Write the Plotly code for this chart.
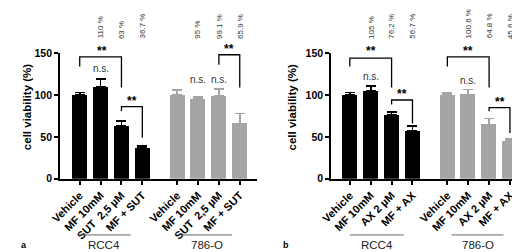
import plotly.graph_objects as go

# ---------------- data ----------------
x_pos = [0, 1, 2, 3, 4.67, 5.67, 6.67, 7.67]
cell_lines = ["RCC4", "786-O"]

a_labels = ["Vehicle", "MF 10mM", "SUT\u00a0 2,5 µM", "MF + SUT"]
a_rcc4 = [100, 110, 63, 36.7]
a_rcc4_err = [3, 9, 6, 2]
a_786 = [100, 95, 99.1, 65.9]
a_786_err = [6, 2.5, 8, 12]
a_pct = ["110 %", "63 %", "36.7 %", "95 %", "99.1 %", "65.9 %"]

b_labels = ["Vehicle", "MF 10mM", "AX 2 µM", "MF + AX"]
b_rcc4 = [100, 105, 76.2, 56.7]
b_rcc4_err = [3, 6, 3.3, 6]
b_786 = [100, 100.6, 64.8, 45.6]
b_786_err = [2, 6, 7, 2]
b_pct = ["105 %", "76.2 %", "56.7 %", "100.6 %", "64.8 %", "45.6 %"]

BLACK = "#000000"
GRAY = "#a5a5a5"
FONT = "Liberation Sans"

# vertical geometry of the plotting area (pixels from top)
Y0_PX, Y150_PX, H = 173, 41, 252

fig = go.Figure()


def add_bars(xa, ya, rcc, rcc_err, o786, o786_err):
    fig.add_trace(go.Bar(
        x=x_pos[:4], y=rcc, width=0.72, xaxis=xa, yaxis=ya,
        marker=dict(color=BLACK, line=dict(width=0)),
        error_y=dict(type="data", array=rcc_err, arrayminus=[0] * 4,
                     symmetric=False, color=BLACK, thickness=1.8, width=5),
        showlegend=False, hoverinfo="skip"))
    fig.add_trace(go.Bar(
        x=x_pos[4:], y=o786, width=0.72, xaxis=xa, yaxis=ya,
        marker=dict(color=GRAY, line=dict(width=0)),
        error_y=dict(type="data", array=o786_err, arrayminus=[0] * 4,
                     symmetric=False, color=GRAY, thickness=1.8, width=5),
        showlegend=False, hoverinfo="skip"))


add_bars("x", "y", a_rcc4, a_rcc4_err, a_786, a_786_err)
add_bars("x2", "y2", b_rcc4, b_rcc4_err, b_786, b_786_err)


def xaxis_cfg(domain, rng, labels):
    return dict(domain=domain, range=rng, tickmode="array", tickvals=x_pos,
                ticktext=labels + labels, ticks="outside", ticklen=4,
                tickwidth=1.8, tickcolor="black", showline=True,
                linecolor="black", linewidth=2, tickangle=-45,
                tickfont=dict(family=FONT, size=11, color="black", weight="bold"),
                showgrid=False, zeroline=False, fixedrange=True)


def yaxis_cfg(anchor):
    return dict(domain=[(H - Y0_PX) / H, (H - Y150_PX) / H], range=[0, 150], anchor=anchor,
                tickmode="array", tickvals=[0, 50, 100, 150],
                ticks="outside", ticklen=4, tickwidth=1.8, tickcolor="black",
                showline=True, linecolor="black", linewidth=2,
                tickfont=dict(family=FONT, size=10.5, color="black", weight="bold"),
                showgrid=False, zeroline=False, fixedrange=True)


fig.update_layout(
    width=520, height=252,
    margin=dict(l=0, r=0, t=0, b=0),
    paper_bgcolor="white", plot_bgcolor="white",
    bargap=0,
    xaxis=dict(xaxis_cfg([42 / 520, 243 / 520], [-0.94, 8.49], a_labels), anchor="y"),
    yaxis=yaxis_cfg("x"),
    xaxis2=dict(xaxis_cfg([319 / 520, 518 / 520], [-0.89, 8.44], b_labels), anchor="y2"),
    yaxis2=yaxis_cfg("x2"),
)

shapes = []
annots = []


def to_paper(v):
    """value on the y scale -> paper fraction (for labels above the axis range)"""
    return (H - (Y0_PX - v * (Y0_PX - Y150_PX) / 150)) / H


def bracket(xr, yr, x0, x1, top, left_end, right_end):
    shapes.append(dict(type="path", xref=xr, yref=yr,
                       path=f"M {x0},{left_end} L {x0},{top} L {x1},{top} L {x1},{right_end}",
                       line=dict(color="black", width=1.3)))


def stars(xr, x, v):
    annots.append(dict(text="**", xref=xr, yref="paper", x=x, y=to_paper(v), showarrow=False,
                       font=dict(family=FONT, size=12, color="black", weight="bold"),
                       xanchor="center", yanchor="middle"))


def ns(xr, x, v):
    annots.append(dict(text="n.s.", xref=xr, yref="paper", x=x, y=to_paper(v), showarrow=False,
                       font=dict(family=FONT, size=10, color="#333333"),
                       xanchor="center", yanchor="middle"))


# panel a
bracket("x", "y", x_pos[0], x_pos[2], 145.5, 134, 109)
stars("x", 1.05, 153)
ns("x", x_pos[1], 131)
bracket("x", "y", x_pos[2], x_pos[3], 86, 81, 49)
stars("x", 2.5, 93)
ns("x", x_pos[5], 118)
ns("x", x_pos[6], 118)
bracket("x", "y", x_pos[6], x_pos[7], 148, 136, 109)
stars("x", 7.17, 155)

# panel b
bracket("x2", "y2", x_pos[0], x_pos[2], 144, 134, 109)
stars("x2", 1.0, 152)
ns("x2", x_pos[1], 121.5)
bracket("x2", "y2", x_pos[2], x_pos[3], 94, 88.5, 66)
stars("x2", 2.5, 101)
bracket("x2", "y2", x_pos[4], x_pos[6], 145.5, 134, 109)
stars("x2", 5.67, 152)
ns("x2", x_pos[5], 117)
bracket("x2", "y2", x_pos[6], x_pos[7], 85, 80.5, 54.5)
stars("x2", 7.17, 92)

# percentage labels
pct_x = [x_pos[1], x_pos[2], x_pos[3], x_pos[5], x_pos[6], x_pos[7]]
for xr, labels in (("x", a_pct), ("x2", b_pct)):
    for xv, t in zip(pct_x, labels):
        annots.append(dict(text=t, xref=xr, yref="paper", x=xv, y=(H - 28) / H,
                           textangle=-90, showarrow=False, xanchor="center",
                           yanchor="bottom",
                           font=dict(family=FONT, size=8, color="#333333")))

# group lines and labels
groups = {"x": [(-0.09, 2.44), (4.88, 7.3)], "x2": [(0.0, 2.58), (4.87, 7.36)]}
for xr, spans in groups.items():
    for (g0, g1), name in zip(spans, cell_lines):
        shapes.append(dict(type="line", xref=xr, yref="paper", x0=g0, x1=g1,
                           y0=(H - 232) / H, y1=(H - 232) / H,
                           line=dict(color="#666666", width=1)))
        annots.append(dict(text=name, xref=xr, yref="paper", x=(g0 + g1) / 2,
                           y=(H - 243) / H, showarrow=False,
                           xanchor="center", yanchor="middle",
                           font=dict(family=FONT, size=11.5, color="#222222")))

# y titles
for xp in (9 / 520, 279 / 520):
    annots.append(dict(text="cell viability (%)", xref="paper", yref="paper",
                       x=xp, y=(H - 98) / H, textangle=-90, showarrow=False,
                       xanchor="center", yanchor="middle",
                       font=dict(family=FONT, size=11.5, color="black", weight="bold")))

# panel letters
for xp, t in ((5 / 520, "a"), (273 / 520, "b")):
    annots.append(dict(text=t, xref="paper", yref="paper", x=xp, y=(H - 243) / H,
                       showarrow=False, xanchor="center", yanchor="middle",
                       font=dict(family=FONT, size=9, color="black", weight="bold")))

fig.update_layout(shapes=shapes, annotations=annots)
fig.write_html("out.html")
